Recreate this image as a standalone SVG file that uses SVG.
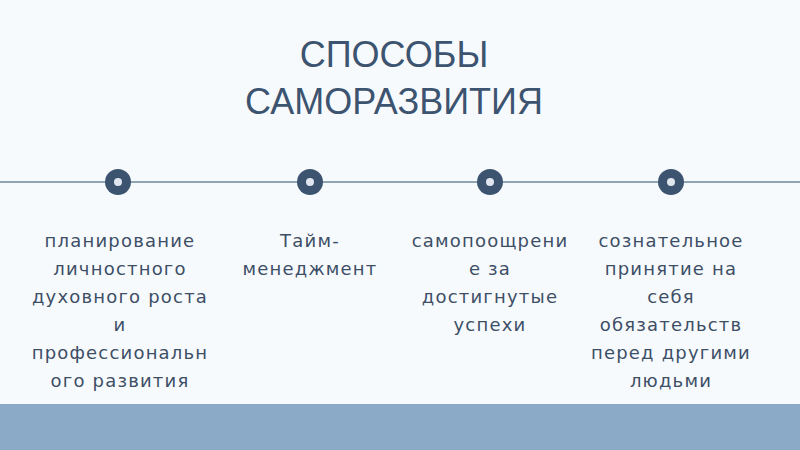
<svg xmlns="http://www.w3.org/2000/svg" width="800" height="450" viewBox="0 0 800 450">
<style>
.title{font-family:"Liberation Sans",Arial,sans-serif;font-size:36px;fill:#3d5470;text-anchor:middle}
.lbl{font-family:"DejaVu Sans",sans-serif;font-size:18px;fill:#3d4f66;text-anchor:middle;letter-spacing:1.2px}
.dot{fill:#3d5470}
.hole{fill:#dfe6ee}
</style>
<rect x="0" y="0" width="800" height="450" fill="#f7fafd"/>
<rect x="0" y="404" width="800" height="46" fill="#8aaac8"/>
<g id="title">
<text class="title" x="394" y="67">СПОСОБЫ</text>
<text class="title" x="394" y="114">САМОРАЗВИТИЯ</text>
</g>
<g id="connectors">
<line x1="0" y1="182" x2="800" y2="182" stroke="#8fa5b5" stroke-width="2"/>
</g>
<g id="n1">
<circle class="dot" cx="118" cy="182" r="13"/><circle class="hole" cx="118" cy="182" r="4"/>
<text class="lbl" x="120" y="247">планирование<tspan x="120" dy="28">личностного</tspan><tspan x="120" dy="28">духовного роста</tspan><tspan x="120" dy="28">и</tspan><tspan x="120" dy="28">профессиональн</tspan><tspan x="120" dy="28">ого развития</tspan></text>
</g>
<g id="n2">
<circle class="dot" cx="310" cy="182" r="13"/><circle class="hole" cx="310" cy="182" r="4"/>
<text class="lbl" x="310" y="247">Тайм-<tspan x="310" dy="28">менеджмент</tspan></text>
</g>
<g id="n3">
<circle class="dot" cx="490" cy="182" r="13"/><circle class="hole" cx="490" cy="182" r="4"/>
<text class="lbl" x="490" y="247">самопоощрени<tspan x="490" dy="28">е за</tspan><tspan x="490" dy="28">достигнутые</tspan><tspan x="490" dy="28">успехи</tspan></text>
</g>
<g id="n4">
<circle class="dot" cx="671" cy="182" r="13"/><circle class="hole" cx="671" cy="182" r="4"/>
<text class="lbl" x="671" y="247">сознательное<tspan x="671" dy="28">принятие на</tspan><tspan x="671" dy="28">себя</tspan><tspan x="671" dy="28">обязательств</tspan><tspan x="671" dy="28">перед другими</tspan><tspan x="671" dy="28">людьми</tspan></text>
</g>
</svg>
